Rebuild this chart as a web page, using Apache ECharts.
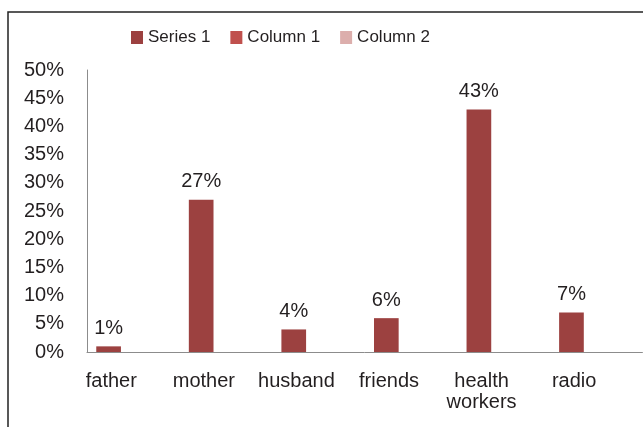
<!DOCTYPE html>
<html>
<head>
    <meta charset="utf-8">
    <title>Sources of information</title>
    <script src="https://cdn.jsdelivr.net/npm/echarts@6/dist/echarts.min.js"></script>
    <style>
        html, body { margin: 0; padding: 0; background: #fff; }
        #chart1 { width: 643px; height: 427px; }
    </style>
</head>
<body>
    <div id="chart1"></div>
    <script type="text/javascript">
        // data
        var categories = ['father', 'mother', 'husband', 'friends', 'health\nworkers', 'radio'];
        var series1 = [1, 27, 4, 6, 43, 7];
        var column1 = [];
        var column2 = [];
        var yMin = 0, yMax = 50, yStep = 5;

        var textColor = '#231f20';
        var axisColor = '#8c8c8c';

        var myChart = echarts.init(document.getElementById('chart1'));
        myChart.setOption({
            backgroundColor: '#fff',
            animation: false,
            textStyle: { fontFamily: '"Liberation Sans", Arial, sans-serif', color: textColor },
            graphic: [{
                type: 'rect',
                shape: { x: 8, y: 12, width: 800, height: 600 },
                style: { fill: 'none', stroke: '#222', lineWidth: 1.5 },
                silent: true
            }],
            legend: {
                left: 126,
                top: 24,
                itemWidth: 12,
                itemHeight: 13,
                itemGap: 20,
                icon: 'rect',
                textStyle: { fontSize: 17, color: textColor },
                data: ['Series 1', 'Column 1', 'Column 2']
            },
            grid: {
                left: 87,
                top: 70,
                width: 560,
                height: 282,
                containLabel: false
            },
            xAxis: {
                type: 'category',
                data: categories,
                axisLine: { show: true, lineStyle: { color: axisColor, width: 1 } },
                axisTick: { show: false },
                axisLabel: {
                    fontSize: 20,
                    color: textColor,
                    margin: 19,
                    lineHeight: 21,
                    interval: 0,
                    padding: [0, 44, 0, 0]
                }
            },
            yAxis: {
                type: 'value',
                min: yMin,
                max: yMax,
                interval: yStep,
                splitLine: { show: false },
                axisTick: { show: false },
                axisLine: { show: true, lineStyle: { color: axisColor, width: 1 } },
                axisLabel: {
                    fontSize: 20,
                    color: textColor,
                    margin: 23,
                    formatter: '{value}%'
                }
            },
            series: [{
                name: 'Series 1',
                type: 'bar',
                data: series1,
                barGap: '0%',
                barCategoryGap: '20%',
                itemStyle: { color: '#9c4140' },
                label: {
                    show: true,
                    position: 'top',
                    distance: 8,
                    fontSize: 20,
                    color: textColor,
                    formatter: '{c}%'
                }
            }, {
                name: 'Column 1',
                type: 'bar',
                data: column1,
                barGap: '0%',
                barCategoryGap: '20%',
                itemStyle: { color: '#c0504d' }
            }, {
                name: 'Column 2',
                type: 'bar',
                data: column2,
                barGap: '0%',
                barCategoryGap: '20%',
                itemStyle: { color: '#dcaeac' }
            }]
        });
    </script>
</body>
</html>
